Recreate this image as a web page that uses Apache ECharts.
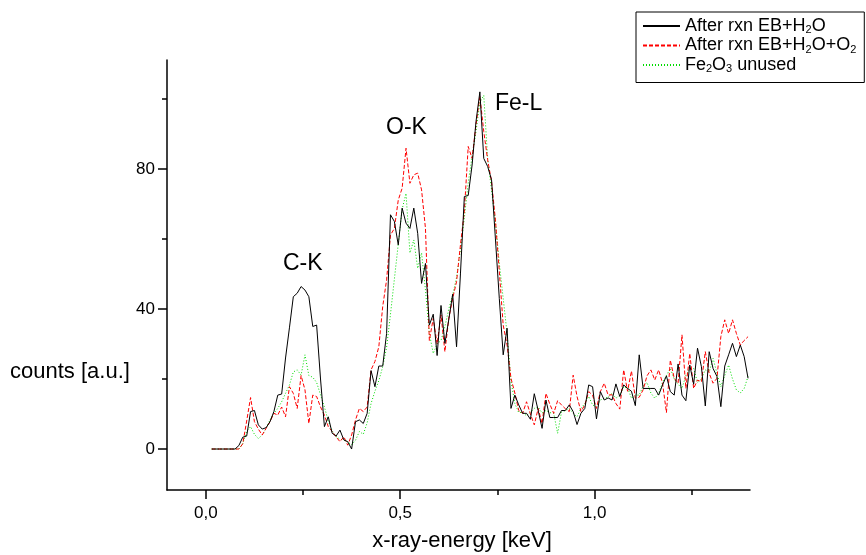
<!DOCTYPE html>
<html>
<head>
<meta charset="utf-8">
<script src="https://cdn.jsdelivr.net/npm/echarts@6/dist/echarts.min.js"></script>
<style>
  html, body { margin: 0; padding: 0; background: #fff; }
  #chart { width: 866px; height: 555px; }
</style>
</head>
<body>
<div id="chart"></div>
<script>
// channel calibration of the spectrum (keV)
const energyStart = 0.015
const energyStep = 0.01

// After rxn EB+H2O (black, solid)
const afterH2O = [
  0, 0, 0, 0, 0, 0, 0, 1, 3.4, 3.7,
  10.7, 11, 6.9, 5.7, 6.1, 7.8, 10.7, 15.4, 15.7, 26,
  34.6, 43.5, 44.5, 46.4, 45.4, 43.5, 35, 35.4, 20, 6.4,
  9.2, 4.5, 3.7, 5.4, 2.6, 2.1, 0, 7.8, 8.3, 7.3,
  10.2, 22.4, 17.8, 23.7, 23.7, 33, 66.9, 65, 58.3, 68.8,
  64.5, 63, 68.8, 61.6, 47.3, 53, 35.4, 38.5, 26.7, 41,
  30.2, 37, 44.2, 29.2, 50, 72.1, 72.4, 81.1, 93.5, 102,
  83, 80.7, 76.9, 60, 43, 26.9, 34.5, 11.6, 15.4, 12.6,
  10.2, 10.2, 8.5, 15.8, 11, 5.9, 14, 9, 9, 9,
  11, 11, 12.6, 10.7, 7, 10.2, 11.6, 18.3, 17.8, 8.6,
  16.4, 14, 14.6, 14, 18.6, 15, 18.3, 17.3, 16.5, 12.4,
  26.9, 17.3, 17.3, 17.3, 17.3, 15.4, 18.3, 20.9, 16.4, 15.4,
  24.3, 15.4, 13.8, 24, 18.5, 28.8, 23.5, 12.3, 27.8, 23,
  20.7, 12.1, 23.7, 26.9, 30.2, 26.4, 29.7, 26.4, 20.2
]

// After rxn EB+H2O+O2 (red, dashed)
const afterH2OO2 = [
  0, 0, 0, 0, 0, 0, 0, 0, 1.5, 8,
  14.7, 7.8, 5.7, 4, 5.9, 7.8, 10.2, 9.7, 12, 9.2,
  17.8, 15.9, 11.6, 21, 16.9, 7.3, 15.4, 15, 12, 9.7,
  6.4, 5, 3.5, 2.1, 3.5, 1.1, 4, 8.3, 11.6, 10.7,
  12, 22.6, 25, 29.2, 40.7, 48.3, 61.1, 63, 71.1, 74.5,
  85.9, 75.9, 78.3, 78.8, 74, 63, 31, 37.3, 30, 38.3,
  27.8, 37.3, 43, 47.8, 58.3, 67.8, 86.4, 83, 92.6, 100.7,
  90.7, 82.6, 76.4, 65.4, 50.7, 35.4, 29.7, 20.2, 16, 11,
  10.2, 13.5, 10, 6.9, 11.6, 7.3, 15.9, 12.8, 10.2, 13.8,
  12.6, 11.5, 10.7, 21.1, 15, 10.7, 12.6, 16.4, 15.4, 11.6,
  16.4, 18.8, 15.4, 15.5, 13, 11.4, 22.6, 16.5, 22.3, 14.5,
  14.8, 16.9, 20.9, 22.6, 19.7, 22.6, 18.8, 10.4, 25.4, 20.2,
  18.8, 32.6, 17.3, 27.3, 17.3, 19.7, 19.2, 27.8, 21.6, 18.8,
  20.2, 32.1, 36.9, 33, 36.9, 33, 29.7, 31, 32.1
]

// Fe2O3 unused (green, dotted)
const fe2o3Unused = [
  0, 0, 0, 0, 0, 0, 0, 0, 1.6, 5,
  6.4, 4.2, 3, 4, 5.9, 8.3, 10.2, 11.6, 13.5, 15.9,
  18.3, 22, 22.6, 21.1, 26.9, 21, 20.5, 19, 15.5, 12,
  8, 5.2, 3.6, 2.8, 2.6, 2, 1.2, 2.5, 5, 4.2,
  7.5, 13, 16.5, 19.5, 23.5, 29, 38.5, 48.5, 58.5, 68.5,
  73, 56, 59.7, 51.6, 56, 45.4, 33, 27.3, 30, 31,
  35, 40, 44, 49, 57, 66, 76, 83.5, 90.7, 99,
  101, 83, 74, 65, 53, 43, 33, 19.5, 13, 10.4,
  10.5, 9.5, 10.5, 11.6, 12, 10.3, 11, 10.4, 10.2, 4.5,
  10.5, 11, 11.6, 10.2, 9.2, 11.6, 13, 15, 12.6, 12,
  14, 14.5, 14.8, 16, 14.5, 15.4, 17.8, 17.5, 14.5, 15.4,
  15.4, 18, 19, 16, 14.5, 15.9, 19, 21, 23, 20,
  18.5, 17.3, 21, 23, 23, 19, 20, 22.6, 22, 25.9,
  21.6, 17.8, 21, 24, 20, 16.9, 16, 17.3, 20.7
]

const xMajorTicks = [0, 0.5, 1.0]
const xMinorTicks = [0.25, 0.75, 1.25]
const yMajorTicks = [0, 40, 80]
const yMinorTicks = [20, 60, 100]

function pairs(values) {
  return values.map(function (v, i) {
    return [+(energyStart + i * energyStep).toFixed(3), v]
  })
}

const fontFamily = '"Liberation Sans", Arial, sans-serif'
const chart = echarts.init(document.getElementById('chart'), null, { renderer: 'canvas' })

const option = {
  animation: false,
  backgroundColor: '#fff',
  textStyle: { fontFamily: fontFamily, color: '#000' },
  grid: { left: 167, right: 116, top: 60, bottom: 65, outerBoundsMode: 'none', containLabel: false },
  legend: {
    orient: 'vertical',
    left: 636,
    top: 12,
    padding: [5, 8, 8, 6],
    itemGap: 1,
    itemWidth: 37,
    itemHeight: 14,
    backgroundColor: '#fff',
    borderColor: '#000',
    borderWidth: 1,
    borderRadius: 0,
    align: 'left',
    itemStyle: { opacity: 0 },
    formatter: function (name) {
      if (name === 'h2o') return '{t|After rxn EB+H}{s|2}{t|O}'
      if (name === 'h2oo2') return '{t|After rxn EB+H}{s|2}{t|O+O}{s|2}'
      return '{t|Fe}{s|2}{t|O}{s|3}{t| unused}'
    },
    data: ['h2o', 'h2oo2', 'fe'],
    textStyle: {
      fontSize: 18,
      color: '#000',
      rich: {
        t: { fontSize: 18, fontFamily: fontFamily, color: '#000', lineHeight: 19 },
        s: { fontSize: 11, fontFamily: fontFamily, color: '#000', lineHeight: 10, verticalAlign: 'bottom' }
      }
    }
  },
  xAxis: [
    {
      type: 'value',
      min: -0.1,
      max: 1.4,
      splitLine: { show: false },
      axisLine: { onZero: false, lineStyle: { color: '#000', width: 1.5 } },
      axisTick: { customValues: xMajorTicks, length: 9, lineStyle: { color: '#000', width: 1.5 } },
      axisLabel: {
        customValues: xMajorTicks,
        margin: 15,
        fontSize: 17,
        color: '#000',
        formatter: function (v) { return v.toFixed(1).replace('.', ',') }
      }
    },
    {
      type: 'value',
      min: -0.1,
      max: 1.4,
      position: 'bottom',
      splitLine: { show: false },
      axisLine: { show: false, onZero: false },
      axisTick: { customValues: xMinorTicks, length: 5, lineStyle: { color: '#000', width: 1.5 } },
      axisLabel: { show: false }
    }
  ],
  yAxis: [
    {
      type: 'value',
      min: -11.7,
      max: 111.1,
      splitLine: { show: false },
      axisLine: { show: true, onZero: false, lineStyle: { color: '#000', width: 1.5 } },
      axisTick: { customValues: yMajorTicks, length: 9, lineStyle: { color: '#000', width: 1.5 } },
      axisLabel: { customValues: yMajorTicks, margin: 12, fontSize: 17, color: '#000' }
    },
    {
      type: 'value',
      min: -11.7,
      max: 111.1,
      position: 'left',
      splitLine: { show: false },
      axisLine: { show: false, onZero: false },
      axisTick: { customValues: yMinorTicks, length: 5, lineStyle: { color: '#000', width: 1.5 } },
      axisLabel: { show: false }
    }
  ],
  graphic: [
    { type: 'text', x: 462, y: 541, style: { text: 'x-ray-energy [keV]', fontSize: 22, fill: '#000', fontFamily: fontFamily, align: 'center', verticalAlign: 'middle' } },
    { type: 'text', x: 10, y: 372, style: { text: 'counts [a.u.]', fontSize: 22, fill: '#000', fontFamily: fontFamily, align: 'left', verticalAlign: 'middle' } },
    { type: 'text', x: 283, y: 264, style: { text: 'C-K', fontSize: 23, fill: '#000', fontFamily: fontFamily, align: 'left', verticalAlign: 'middle' } },
    { type: 'text', x: 386, y: 128, style: { text: 'O-K', fontSize: 23, fill: '#000', fontFamily: fontFamily, align: 'left', verticalAlign: 'middle' } },
    { type: 'text', x: 495, y: 104, style: { text: 'Fe-L', fontSize: 23, fill: '#000', fontFamily: fontFamily, align: 'left', verticalAlign: 'middle' } }
  ],
  series: [
    {
      name: 'h2o',
      type: 'line',
      symbol: 'none',
      data: pairs(afterH2O),
      lineStyle: { color: '#000', width: 1 },
      itemStyle: { color: '#000' },
      z: 3
    },
    {
      name: 'h2oo2',
      type: 'line',
      symbol: 'none',
      data: pairs(afterH2OO2),
      lineStyle: { color: '#ff0000', width: 1, type: [4, 2] },
      itemStyle: { color: '#ff0000' },
      z: 2
    },
    {
      name: 'fe',
      type: 'line',
      symbol: 'none',
      data: pairs(fe2o3Unused),
      lineStyle: { color: '#00dd00', width: 1, type: [1, 2] },
      itemStyle: { color: '#00dd00' },
      z: 1
    }
  ]
}

option && chart.setOption(option)
</script>
</body>
</html>
